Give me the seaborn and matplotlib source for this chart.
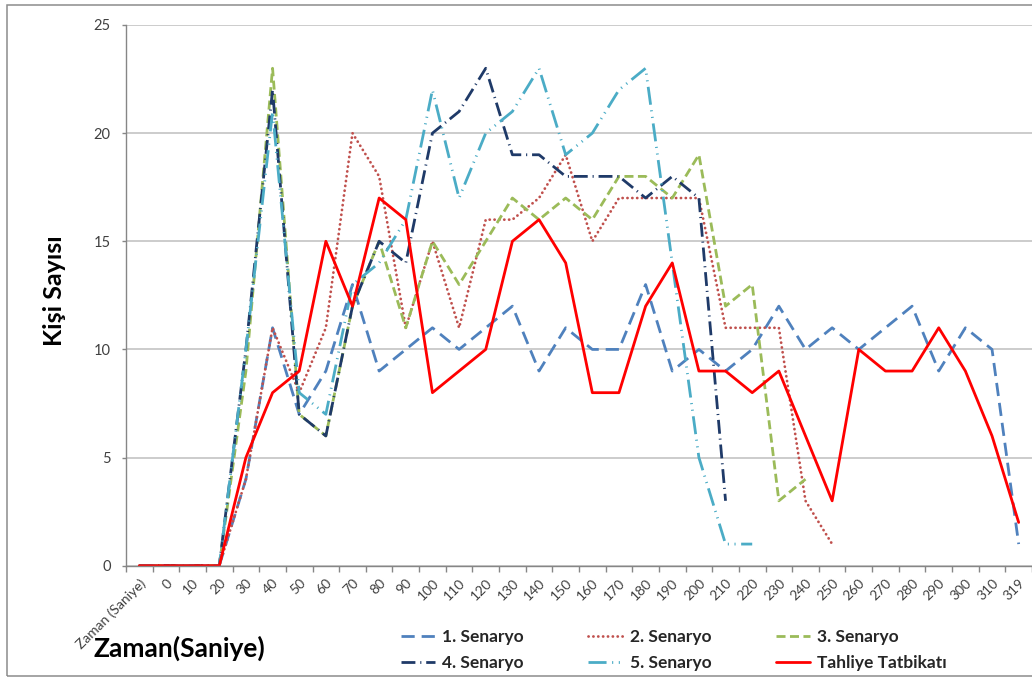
import numpy as np
import pandas as pd
import matplotlib
matplotlib.use("Agg")
import matplotlib.pyplot as plt
from matplotlib.patches import Rectangle
from matplotlib.ticker import FixedLocator
import seaborn as sns

nan = np.nan

# Time categories (seconds)
labels = ["Zaman (Saniye)", "0", "10", "20", "30", "40", "50", "60", "70", "80",
          "90", "100", "110", "120", "130", "140", "150", "160", "170", "180",
          "190", "200", "210", "220", "230", "240", "250", "260", "270", "280",
          "290", "300", "310", "319"]

# Number of people per interval for each scenario
senaryo_1 = [0, 0, 0, 0, 4, 11, 7, 9, 13, 9, 10, 11, 10, 11, 12, 9, 11, 10, 10, 13,
             9, 10, 9, 10, 12, 10, 11, 10, 11, 12, 9, 11, 10, 1]
senaryo_2 = [0, 0, 0, 0, 4, 11, 8, 11, 20, 18, 11, 15, 11, 16, 16, 17, 19, 15, 17, 17,
             17, 17, 11, 11, 11, 3, 1, nan, nan, nan, nan, nan, nan, nan]
senaryo_3 = [0, 0, 0, 0, 9, 23, 7, 6, 12, 15, 11, 15, 13, 15, 17, 16, 17, 16, 18, 18,
             17, 19, 12, 13, 3, 4, nan, nan, nan, nan, nan, nan, nan, nan]
senaryo_4 = [0, 0, 0, 0, 10, 22, 7, 6, 12, 15, 14, 20, 21, 23, 19, 19, 18, 18, 18, 17,
             18, 17, 3, nan, nan, nan, nan, nan, nan, nan, nan, nan, nan, nan]
senaryo_5 = [0, 0, 0, 0, 10, 21, 8, 7, 13, 14, 16, 22, 17, 20, 21, 23, 19, 20, 22, 23,
             14, 5, 1, 1, nan, nan, nan, nan, nan, nan, nan, nan, nan, nan]
tatbikat = [0, 0, 0, 0, 5, 8, 9, 15, 12, 17, 16, 8, 9, 10, 15, 16, 14, 8, 8, 12,
            14, 9, 9, 8, 9, 6, 3, 10, 9, 9, 11, 9, 6, 2]

series_names = ["1. Senaryo", "2. Senaryo", "3. Senaryo", "4. Senaryo",
                "5. Senaryo", "Tahliye Tatbikatı"]
series_values = [senaryo_1, senaryo_2, senaryo_3, senaryo_4, senaryo_5, tatbikat]
colors = ["#4F81BD", "#C0504D", "#9BBB59", "#1F3A68", "#4BACC6", "#FF0000"]
styles = [(0, (9.5, 5)),
          (0, (0.1, 3.4)),
          (0, (6.5, 3.2)),
          (0, (10, 3.5, 0.8, 3.5)),
          (0, (13, 4, 0.8, 4, 0.8, 4)),
          "solid"]

sns.set_theme(style="white")
plt.rcParams["font.family"] = ["Lato", "DejaVu Sans"]
plt.rcParams["lines.scale_dashes"] = False

df = pd.DataFrame({"pos": np.arange(len(labels))})
for name, vals in zip(series_names, series_values):
    df[name] = vals

fig = plt.figure(figsize=(10.32, 6.79), dpi=100)
ax = fig.add_axes([126 / 1032, 1 - 565.7 / 679, 1 - 126 / 1032, (565.7 - 25) / 679])

handles = {}
for name, color, ls in zip(series_names, colors, styles):
    sub = df[["pos", name]].dropna()
    sns.lineplot(data=sub, x="pos", y=name, ax=ax, color=color, lw=2.0,
                 label=name, legend=False)
    line = ax.lines[-1]
    line.set_linestyle(ls)
    line.set_dash_capstyle("round" if name == "2. Senaryo" else "butt")
    handles[name] = line

ax.set_xlim(-0.5, 33.5)
ax.set_ylim(0, 25)
ax.set_yticks([0, 5, 10, 15, 20, 25])
ax.set_xticks(np.arange(len(labels)))
ax.set_xticklabels(labels, rotation=45, ha="right", rotation_mode="anchor",
                   fontsize=10, color="#404040")
ax.xaxis.set_minor_locator(FixedLocator(np.arange(-0.5, 34, 1)))
ax.tick_params(axis="x", which="major", length=0, pad=8)
ax.tick_params(axis="x", which="minor", length=4, width=1, color="#868686",
               direction="out", bottom=True)
ax.tick_params(axis="y", which="major", length=3, width=1, color="#868686",
               direction="out", left=True, labelsize=10.5, labelcolor="#404040", pad=8)
ax.set_xlabel("")
ax.set_ylabel("")

ax.yaxis.grid(True, color="#BFBFBF", lw=1.1)
ax.xaxis.grid(False)
ax.set_axisbelow(True)
for side in ["top", "right"]:
    ax.spines[side].set_visible(False)
for side in ["left", "bottom"]:
    ax.spines[side].set_color("#868686")
    ax.spines[side].set_linewidth(1)

fig.text(55 / 1032, 1 - 291 / 679, "Kişi Sayısı", rotation=90, ha="center",
         va="center", fontsize=18, fontweight="bold", color="black")
fig.text(93 / 1032, 1 - 648 / 679, "Zaman(Saniye)", ha="left", va="center",
         fontsize=19, fontweight="bold", color="black")

order = ["1. Senaryo", "4. Senaryo", "2. Senaryo", "5. Senaryo",
         "3. Senaryo", "Tahliye Tatbikatı"]
leg = fig.legend([handles[n] for n in order], order, ncol=3, loc="center left",
                 bbox_to_anchor=(392 / 1032, 1 - 650 / 679), frameon=False,
                 prop={"weight": "bold", "size": 12.5}, handlelength=2.0,
                 handletextpad=0.4, columnspacing=3.7, labelspacing=0.55,
                 borderpad=0.0)

fig.patches.append(Rectangle((7 / 1032, 1 - 676 / 679), 1.2, (676 - 5) / 679,
                             transform=fig.transFigure, fill=False,
                             edgecolor="#8C8C8C", lw=1.1))

fig.savefig("out.png", dpi=100)
